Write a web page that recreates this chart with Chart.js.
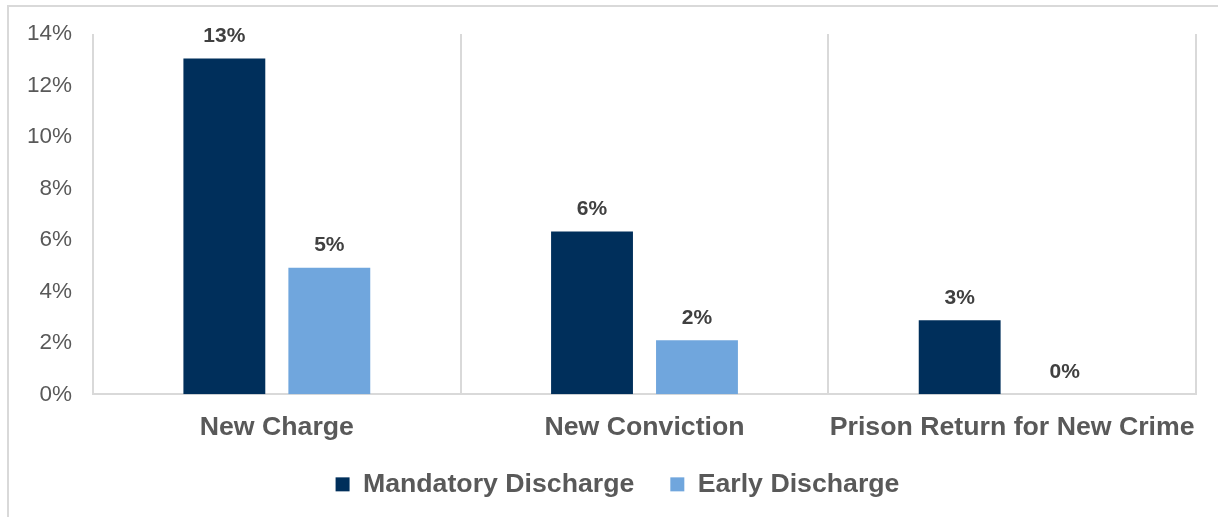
<!doctype html>
<html>
  <head>
    <meta charset="utf-8" />
    <title>Discharge outcomes</title>
    <script src="https://cdn.jsdelivr.net/npm/chart.js"></script>
    <style>
      html, body { margin: 0; padding: 0; background: #fff; overflow: hidden; }
      .frame {
        position: absolute; left: 7px; top: 5px; width: 1400px; height: 700px;
        border-top: 2px solid #d9d9d9; border-left: 2px solid #d9d9d9;
      }
      #chart { position: absolute; left: 0; top: 0; }
    </style>
  </head>
  <body>
    <div class="frame"></div>
    <canvas id="chart" width="1218" height="517"></canvas>
    <script type="text/javascript">
      const categories = ["New Charge", "New Conviction", "Prison Return for New Crime"];
      const mandatory = [13.05, 6.33, 2.88];
      const early = [4.92, 2.1, 0];
      const yTicks = [0, 2, 4, 6, 8, 10, 12, 14];

      const FONT = "'Liberation Sans', Arial, sans-serif";

      // values above each bar, rounded like the source
      const barLabels = {
        id: "barLabels",
        afterDatasetsDraw(chart) {
          const ctx = chart.ctx;
          ctx.save();
          ctx.font = "bold 21px " + FONT;
          ctx.fillStyle = "#404040";
          ctx.textAlign = "center";
          ctx.textBaseline = "alphabetic";
          chart.data.datasets.forEach((ds, i) => {
            chart.getDatasetMeta(i).data.forEach((bar, j) => {
              ctx.fillText(Math.round(ds.data[j]) + "%", bar.x, bar.y - 16.5);
            });
          });
          ctx.restore();
        },
      };

      // the legend in the source sits a bit right of the canvas centre
      const legendShift = {
        id: "legendShift",
        afterLayout(chart) {
          chart.legend.left = 39;
          chart.legend.top = 435;
        },
      };

      new Chart(document.getElementById("chart"), {
        type: "bar",
        data: {
          labels: categories,
          datasets: [
            { label: "Mandatory Discharge", data: mandatory, backgroundColor: "#002f5b" },
            { label: "Early Discharge", data: early, backgroundColor: "#70a6dd" },
          ],
        },
        options: {
          responsive: false,
          animation: false,
          devicePixelRatio: 1,
          categoryPercentage: 0.571,
          barPercentage: 0.78,
          layout: { padding: { left: 0, right: 22, top: 34, bottom: 0 } },
          plugins: {
            tooltip: { enabled: false },
            legend: {
              position: "bottom",
              labels: {
                boxWidth: 14,
                boxHeight: 14,
                padding: 36,
                color: "#595959",
                font: { family: FONT, size: 26.7, weight: "bold" },
              },
            },
          },
          scales: {
            x: {
              grid: { display: true, color: "#d9d9d9", lineWidth: 2, drawTicks: false, offset: true },
              border: { display: true, color: "#d9d9d9", width: 2 },
              ticks: {
                color: "#595959",
                padding: 17,
                maxRotation: 0,
                autoSkip: false,
                font: { family: FONT, size: 26.7, weight: "bold" },
              },
              afterFit(scale) {
                scale.height = 50;
              },
            },
            y: {
              min: 0,
              max: 14,
              grid: { display: false },
              border: { display: false },
              afterBuildTicks(scale) {
                scale.ticks = yTicks.map((v) => ({ value: v }));
              },
              ticks: {
                color: "#595959",
                padding: 13,
                font: { family: FONT, size: 22.5 },
                callback: (v) => v + "%",
              },
              afterFit(scale) {
                scale.width = 93;
              },
            },
          },
        },
        plugins: [barLabels, legendShift],
      });
    </script>
  </body>
</html>
